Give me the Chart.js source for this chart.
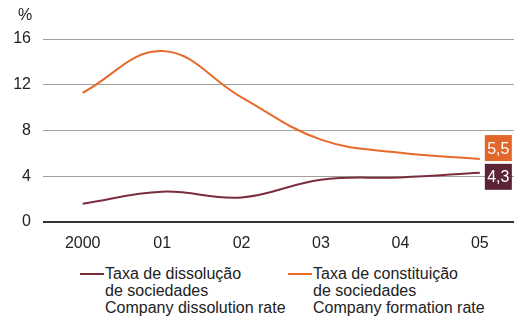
<!DOCTYPE html>
<html>
<head>
<meta charset="utf-8">
<script src="https://cdn.jsdelivr.net/npm/chart.js@4"></script>
<style>
  body { margin: 0; background: #fff; font-family: "Liberation Sans", Arial, sans-serif; }
  #wrap { position: relative; width: 514px; height: 316px; }
  #grafico { position: absolute; left: 0; top: 0; }
  .leyenda { position: absolute; top: 265px; font-size: 16px; line-height: 17px; color: #222; }
  .leyenda span.linea { position: absolute; left: -25px; top: 8px; width: 24px; height: 2px; }
</style>
</head>
<body>
<div id="wrap">
  <canvas id="grafico" width="514" height="260"></canvas>
  <div class="leyenda" style="left:105px"><span class="linea" style="background:#7b2d3e"></span>Taxa de dissolução<br>de sociedades<br>Company dissolution rate</div>
  <div class="leyenda" style="left:313px"><span class="linea" style="background:#e8692a"></span>Taxa de constituição<br>de sociedades<br>Company formation rate</div>
</div>
<script>
var anos = ['2000', '01', '02', '03', '04', '05'];
var tasaDisolucion = [1.6, 2.65, 2.15, 3.7, 3.9, 4.3];
var tasaConstitucion = [11.3, 14.95, 10.9, 7.2, 6.05, 5.5];
var ticksY = [0, 4, 8, 12, 16];

var colorDisolucion = '#7b2d3e';
var colorConstitucion = '#e8692a';
var fuente = '"Liberation Sans", Arial, sans-serif';

function puntos(valores) {
    return valores.map(function (v, i) { return { x: i, y: v }; });
}

// etiquetas con el último valor en cajas a la derecha
var etiquetasFinales = {
    id: 'etiquetasFinales',
    afterDatasetsDraw: function (chart) {
        var ctx = chart.ctx;
        var cajas = [
            { ds: 1, color: '#e3662a', dy: -11 },
            { ds: 0, color: '#5b2333', dy: 4 }
        ];
        cajas.forEach(function (c) {
            var meta = chart.getDatasetMeta(c.ds);
            var pt = meta.data[meta.data.length - 1];
            var valores = chart.data.datasets[c.ds].data;
            var v = valores[valores.length - 1].y;
            var cy = pt.y + c.dy;
            ctx.save();
            ctx.fillStyle = c.color;
            ctx.fillRect(pt.x + 5, cy - 13, 27, 26);
            ctx.fillStyle = '#fff';
            ctx.font = '16px ' + fuente;
            ctx.textAlign = 'center';
            ctx.textBaseline = 'middle';
            ctx.fillText(v.toFixed(1).replace('.', ','), pt.x + 18.5, cy + 1);
            ctx.restore();
        });
    }
};

var unidad = {
    id: 'unidad',
    afterDraw: function (chart) {
        var ctx = chart.ctx;
        ctx.save();
        ctx.fillStyle = '#222';
        ctx.font = '16px ' + fuente;
        ctx.textAlign = 'center';
        ctx.textBaseline = 'middle';
        ctx.fillText('%', 25, 16);
        ctx.restore();
    }
};

var ctx = document.getElementById('grafico').getContext('2d');
new Chart(ctx, {
    type: 'line',
    data: {
        datasets: [{
            label: 'Company dissolution rate',
            data: puntos(tasaDisolucion),
            borderColor: colorDisolucion,
            borderWidth: 2,
            pointRadius: 0,
            tension: 0.4
        }, {
            label: 'Company formation rate',
            data: puntos(tasaConstitucion),
            borderColor: colorConstitucion,
            borderWidth: 2,
            pointRadius: 0,
            tension: 0.4
        }]
    },
    options: {
        responsive: false,
        animation: false,
        layout: { padding: { top: 39, right: 0, left: 0, bottom: 0 } },
        plugins: { legend: { display: false }, tooltip: { enabled: false } },
        scales: {
            x: {
                type: 'linear',
                min: -0.5,
                max: 5.43,
                grid: { display: false },
                border: { display: false },
                afterBuildTicks: function (scale) {
                    scale.ticks = anos.map(function (a, i) { return { value: i }; });
                },
                afterFit: function (scale) { scale.height = 38; },
                ticks: {
                    padding: 4,
                    color: '#222',
                    font: { size: 16, family: fuente },
                    callback: function (v) { return anos[v]; }
                }
            },
            y: {
                min: 0,
                max: 16,
                afterBuildTicks: function (scale) {
                    scale.ticks = ticksY.map(function (t) { return { value: t }; });
                },
                afterFit: function (scale) { scale.width = 43; },
                border: { display: false },
                grid: {
                    drawTicks: false,
                    color: function (c) { return c.tick.value === 0 ? '#333' : '#a0a0a0'; },
                    lineWidth: function (c) { return c.tick.value === 0 ? 2 : 1; }
                },
                ticks: {
                    padding: 12,
                    color: '#222',
                    font: { size: 16, family: fuente }
                }
            }
        }
    },
    plugins: [etiquetasFinales, unidad]
});
</script>
</body>
</html>
